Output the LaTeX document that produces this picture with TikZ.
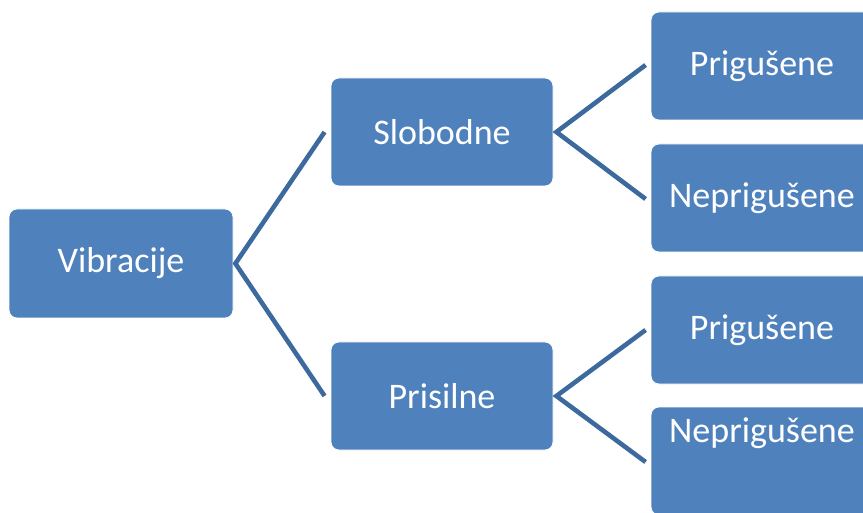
\documentclass[tikz,border=0pt]{standalone}
\usepackage{fontspec}
\setmainfont{Carlito}
\usetikzlibrary{calc}
\definecolor{boxblue}{HTML}{4F81BD}
\definecolor{linkblue}{HTML}{3C6A9E}
\begin{document}
\begin{tikzpicture}[x=1pt,y=-1pt,
  box/.style={rectangle, rounded corners=8pt, fill=boxblue, draw=white, line width=0.8pt,
    minimum width=224pt, minimum height=109pt, inner sep=0pt,
    text=white, font=\fontsize{36}{40}\selectfont},
  label/.style={inner sep=0pt, text=white, font=\fontsize{36}{40}\selectfont},
  link/.style={draw=linkblue, line width=4.6pt}]
\useasboundingbox (0,0) rectangle (863,513);
\clip (0,0) rectangle (863,513);
\node[box] (V) at (121,263.5) {Vibracije};
\node[box, minimum width=222pt, minimum height=108pt] (S) at (442,132) {Slobodne};
\node[box, minimum width=222pt, minimum height=108pt] (P) at (442,396) {Prisilne};
\node[box, minimum width=222pt, minimum height=108pt] (A1) at (762,66) {Prigušene};
\node[box, minimum width=222pt, minimum height=108pt] (A2) at (762,198) {Neprigušene};
\node[box, minimum width=222pt, minimum height=108pt] (B1) at (762,330) {Prigušene};
\node[box, minimum width=222pt, minimum height=108pt] (B2) at (762,461) {};
\node[label] (B2t) at (762,433) {Neprigušene};
\draw[link] ($(S.west)+(-6,0)$) -- ($(V.east)+(2,0)$) -- ($(P.west)+(-6,0)$);
\draw[link] ($(A1.west)+(-5,-1)$) -- ($(S.east)+(3,0)$) -- ($(A2.west)+(-5,1)$);
\draw[link] ($(B1.west)+(-5,0)$) -- ($(P.east)+(3,0)$) -- ($(B2.west)+(-5,1)$);
\end{tikzpicture}
\end{document}
